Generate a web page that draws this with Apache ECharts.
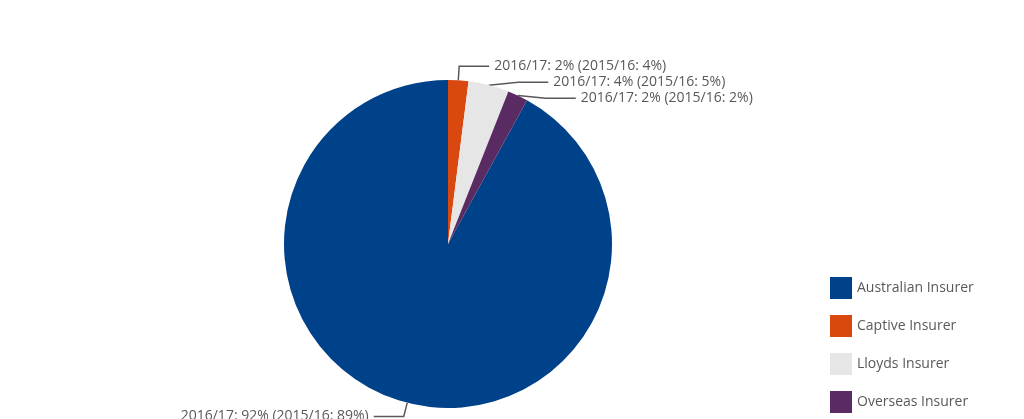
<!DOCTYPE html>
<html><head><meta charset="utf-8">
<script src="https://cdn.jsdelivr.net/npm/echarts@6/dist/echarts.min.js"></script>
<style>html,body{margin:0;background:#fff}#chart{width:1024px;height:419px}</style>
</head><body><div id="chart"></div>
<script>
//data
let categories = ['Australian Insurer', 'Captive Insurer', 'Lloyds Insurer', 'Overseas Insurer'];
let values2017 = [92, 2, 4, 2];
let values2016 = [89, 4, 5, 2];
let colors = ['#00428a', '#d9480f', '#e6e6e6', '#5a2a62'];

let chart = echarts.init(document.getElementById('chart'));

let data = [];
for (let i = 0; i < categories.length; i++) {
    data.push({
        name: categories[i],
        value: values2017[i],
        itemStyle: {color: colors[i]}
    });
}

let option = {
    animation: false,
    legend: {
        orient: 'vertical',
        left: 825,
        top: 272,
        itemWidth: 22,
        itemHeight: 22,
        itemGap: 16,
        icon: 'rect',
        textStyle: {color: '#595959', fontSize: 14, fontFamily: 'Open Sans'},
        data: categories
    },
    series: [{
        type: 'pie',
        center: [448, 244],
        radius: 164,
        startAngle: 90 - 0.08 * 360,
        clockwise: true,
        data: data,
        label: {
            show: true,
            color: '#595959',
            fontSize: 14,
            fontFamily: 'Open Sans',
            formatter: function (p) {
                return '2016/17: ' + values2017[p.dataIndex] + '% (2015/16: ' + values2016[p.dataIndex] + '%)';
            }
        },
        labelLine: {
            show: true,
            length: 14,
            length2: 30,
            lineStyle: {color: '#595959', width: 1.5}
        }
    }]
};
chart.setOption(option);
</script>
</body></html>
